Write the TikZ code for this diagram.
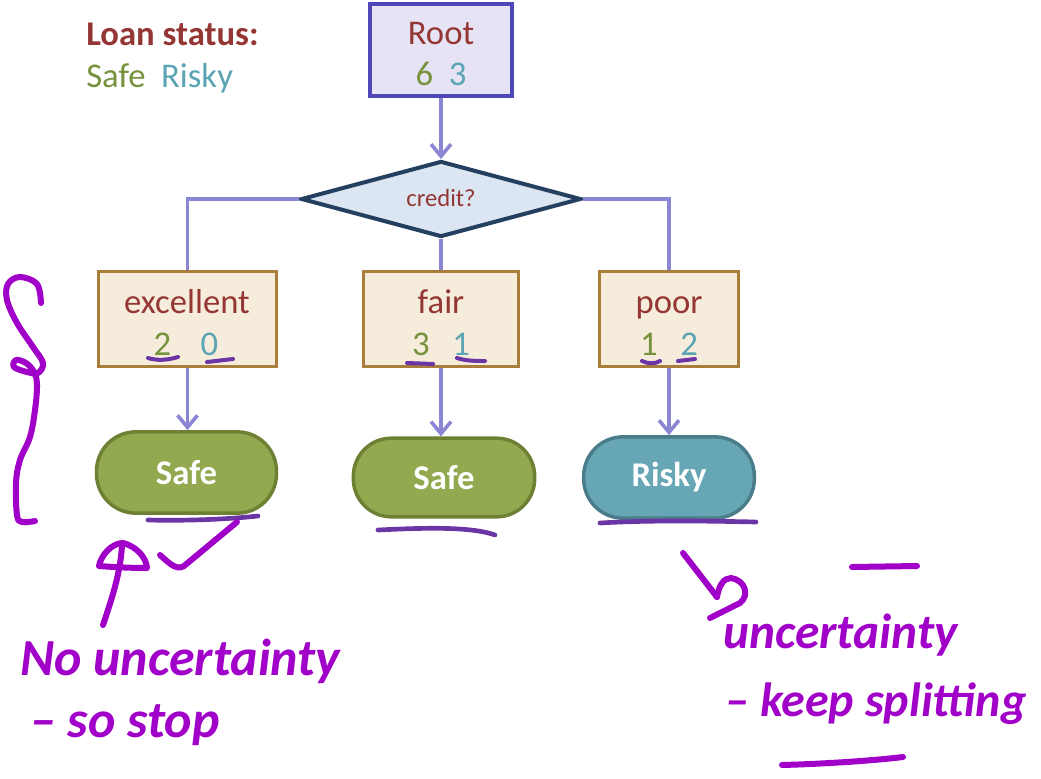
\documentclass[tikz,border=0pt]{standalone}
\usepackage{fontspec}
\setmainfont{Carlito}
\usetikzlibrary{shapes.geometric,arrows.meta}

\definecolor{titlered}{HTML}{943634}
\definecolor{safegreen}{HTML}{76923C}
\definecolor{riskyteal}{HTML}{5BA4B4}
\definecolor{rootfill}{HTML}{E6E4F4}
\definecolor{rootline}{HTML}{4F46B8}
\definecolor{connline}{HTML}{8B86D3}
\definecolor{diafill}{HTML}{DCE6F2}
\definecolor{dialine}{HTML}{243F60}
\definecolor{boxfill}{HTML}{F6ECDB}
\definecolor{boxline}{HTML}{A97E3A}
\definecolor{leafgreen}{HTML}{92A94F}
\definecolor{leafgreenline}{HTML}{6E8034}
\definecolor{leafteal}{HTML}{67A6B4}
\definecolor{leaftealline}{HTML}{4B7C89}
\definecolor{inkbright}{HTML}{A000C8}
\definecolor{inkdark}{HTML}{6B35A5}

\tikzset{
  rootbox/.style={draw=rootline, fill=rootfill, line width=3pt, minimum width=106.5pt, minimum height=69pt, inner sep=0pt},
  splitdia/.style={shape=diamond, draw=dialine, fill=diafill, line width=3pt, aspect=3.66, minimum width=210pt, minimum height=57pt, inner sep=0pt},
  valbox/.style={draw=boxline, fill=boxfill, line width=2.6pt, minimum height=71pt, inner sep=0pt},
  leafbox/.style={rounded corners=29.5pt, line width=2.6pt, minimum height=61pt, inner sep=0pt, text=white, font=\fontsize{26}{30}\selectfont\bfseries},
  bigtxt/.style={font=\fontsize{26}{30}\selectfont, inner sep=0pt},
  conn/.style={draw=connline, line width=2.7pt},
  arr/.style={-{Straight Barb[length=9pt,width=15pt,line width=2.7pt]}},
  pen/.style={draw=inkbright, line width=4.5pt, line cap=round, line join=round},
  penmark/.style={draw=inkdark, line width=3.5pt, line cap=round},
  hand/.style={text=inkbright, inner sep=0pt, font=\fontsize{39}{43}\selectfont\bfseries\itshape},
}

\begin{document}
\begin{tikzpicture}[x=0.75pt, y=-0.75pt]
\useasboundingbox (0,0) rectangle (1041,778);

% legend
\node[bigtxt, anchor=base west, text=titlered, font=\fontsize{26}{30}\selectfont\bfseries] (legtitle) at (86,45) {Loan status:};
\node[bigtxt, anchor=base west] (legkeys) at (86,87) {\textcolor{safegreen}{Safe}\hspace{0.45em}\textcolor{riskyteal}{Risky}};

% root and split
\node[rootbox] (root) at (441,50) {};
\node[bigtxt, anchor=base, text=titlered] (roottxt) at (441,44) {Root};
\node[bigtxt, anchor=base] (rootnum) at (441,85) {\textcolor{safegreen}{6}\hspace{0.45em}\textcolor{riskyteal}{3}};

\node[splitdia] (dia) at (441,199) {};
\node[anchor=base, text=titlered, inner sep=0pt, font=\fontsize{18.5}{22}\selectfont] (diatxt) at (441,206) {credit?};

% value boxes
\node[valbox, minimum width=133.5pt] (exc) at (187.5,319) {};
\node[valbox, minimum width=116pt] (fair) at (441,319) {};
\node[valbox, minimum width=104pt] (poor) at (669,319) {};

\node[bigtxt, anchor=base, text=titlered] (exctxt) at (187,313) {excellent};
\node[bigtxt, anchor=base] (excnum) at (186,355) {\textcolor{safegreen}{2}\hspace{0.85em}\textcolor{riskyteal}{0}};
\node[bigtxt, anchor=base, text=titlered] (fairtxt) at (441,313) {fair};
\node[bigtxt, anchor=base] (fairnum) at (441,355) {\textcolor{safegreen}{3}\hspace{0.65em}\textcolor{riskyteal}{1}};
\node[bigtxt, anchor=base, text=titlered] (poortxt) at (669,313) {poor};
\node[bigtxt, anchor=base] (poornum) at (669,355) {\textcolor{safegreen}{1}\hspace{0.65em}\textcolor{riskyteal}{2}};

% leaves
\node[leafbox, fill=leafgreen, draw=leafgreenline, minimum width=135pt] (leafa) at (186.5,472.5) {Safe};
\node[leafbox, fill=leafgreen, draw=leafgreenline, minimum width=136pt, minimum height=59pt, rounded corners=28.5pt] (leafb) at (444,477.5) {Safe};
\node[leafbox, fill=leafteal, draw=leaftealline, minimum width=128pt] (leafc) at (669,477.5) {Risky};

% connectors
\draw[conn, arr] (root.south) -- (dia.north);
\draw[conn] (dia.west) -| (exc.north);
\draw[conn] (dia.south) -- (fair.north);
\draw[conn] (dia.east) -| (poor.north);
\draw[conn, arr] (exc.south) -- (exc.south |- leafa.north);
\draw[conn, arr] (fair.south) -- (fair.south |- leafb.north);
\draw[conn, arr] (poor.south) -- (poor.south |- leafc.north);

% pen marks under the counts
\draw[penmark, line width=3pt] (148,358) .. controls (158,361) and (168,360) .. (178,357);
\draw[penmark, line width=3pt] (207,362) -- (233,359);
\draw[penmark, line width=3pt] (407,363) -- (433,364);
\draw[penmark, line width=3pt] (457,358) .. controls (466,361) and (476,361) .. (485,361);
\draw[penmark, line width=3pt] (642,361) .. controls (648,364) and (655,364) .. (660,361);
\draw[penmark, line width=3pt] (678,361) -- (695,359);

% pen marks under the leaves
\draw[penmark] (148,520) .. controls (190,521) and (230,519) .. (258,516);
\draw[penmark] (378,530) .. controls (420,528) and (470,526) .. (495,535);
\draw[penmark] (600,523) .. controls (650,520) and (710,521) .. (756,522);

% brace on the left
\draw[pen] plot[smooth, tension=0.6] coordinates {(41,303) (37,284) (20,277) (8,284) (7,300) (17,323) (33,347) (43,363) (38,373) (27,372) (14,367) (16,360) (26,363) (34,372) (37,385) (35,410) (30,437) (20,460) (16,483) (17,515) (22,522) (35,521)};

% tick and arrow under the first leaf
\draw[pen] (160,555) .. controls (168,562) and (176,571) .. (184,566) -- (237,522);
\draw[pen] (103,625) .. controls (112,598) and (120,575) .. (122,546);
\draw[pen] (99,566) .. controls (101,555) and (112,543) .. (123,543) .. controls (135,546) and (146,556) .. (147,568) .. controls (130,568) and (112,567) .. (99,566);
\node[hand, anchor=base west] (stopnote) at (20,675) {No uncertainty};
\node[hand, anchor=base west] (stopnote2) at (30,737) {– so stop};

% arrow and note under the risky leaf
\draw[pen] (683,553) -- (717,597);
\draw[pen] (717,597) .. controls (719,585) and (724,578) .. (731,578) .. controls (745,580) and (750,595) .. (740,603) -- (710,618);
\draw[pen] (852,567) -- (917,566);
\node[hand, anchor=base west, font=\fontsize{37}{42}\selectfont\bfseries\itshape] (splitnote) at (723,648) {uncertainty};
\node[hand, anchor=base west, font=\fontsize{36}{42}\selectfont\bfseries\itshape] (splitnote2) at (725,716) {– keep splitting};
\draw[pen] (782,765) .. controls (820,764) and (870,761) .. (903,757);
\end{tikzpicture}
\end{document}
